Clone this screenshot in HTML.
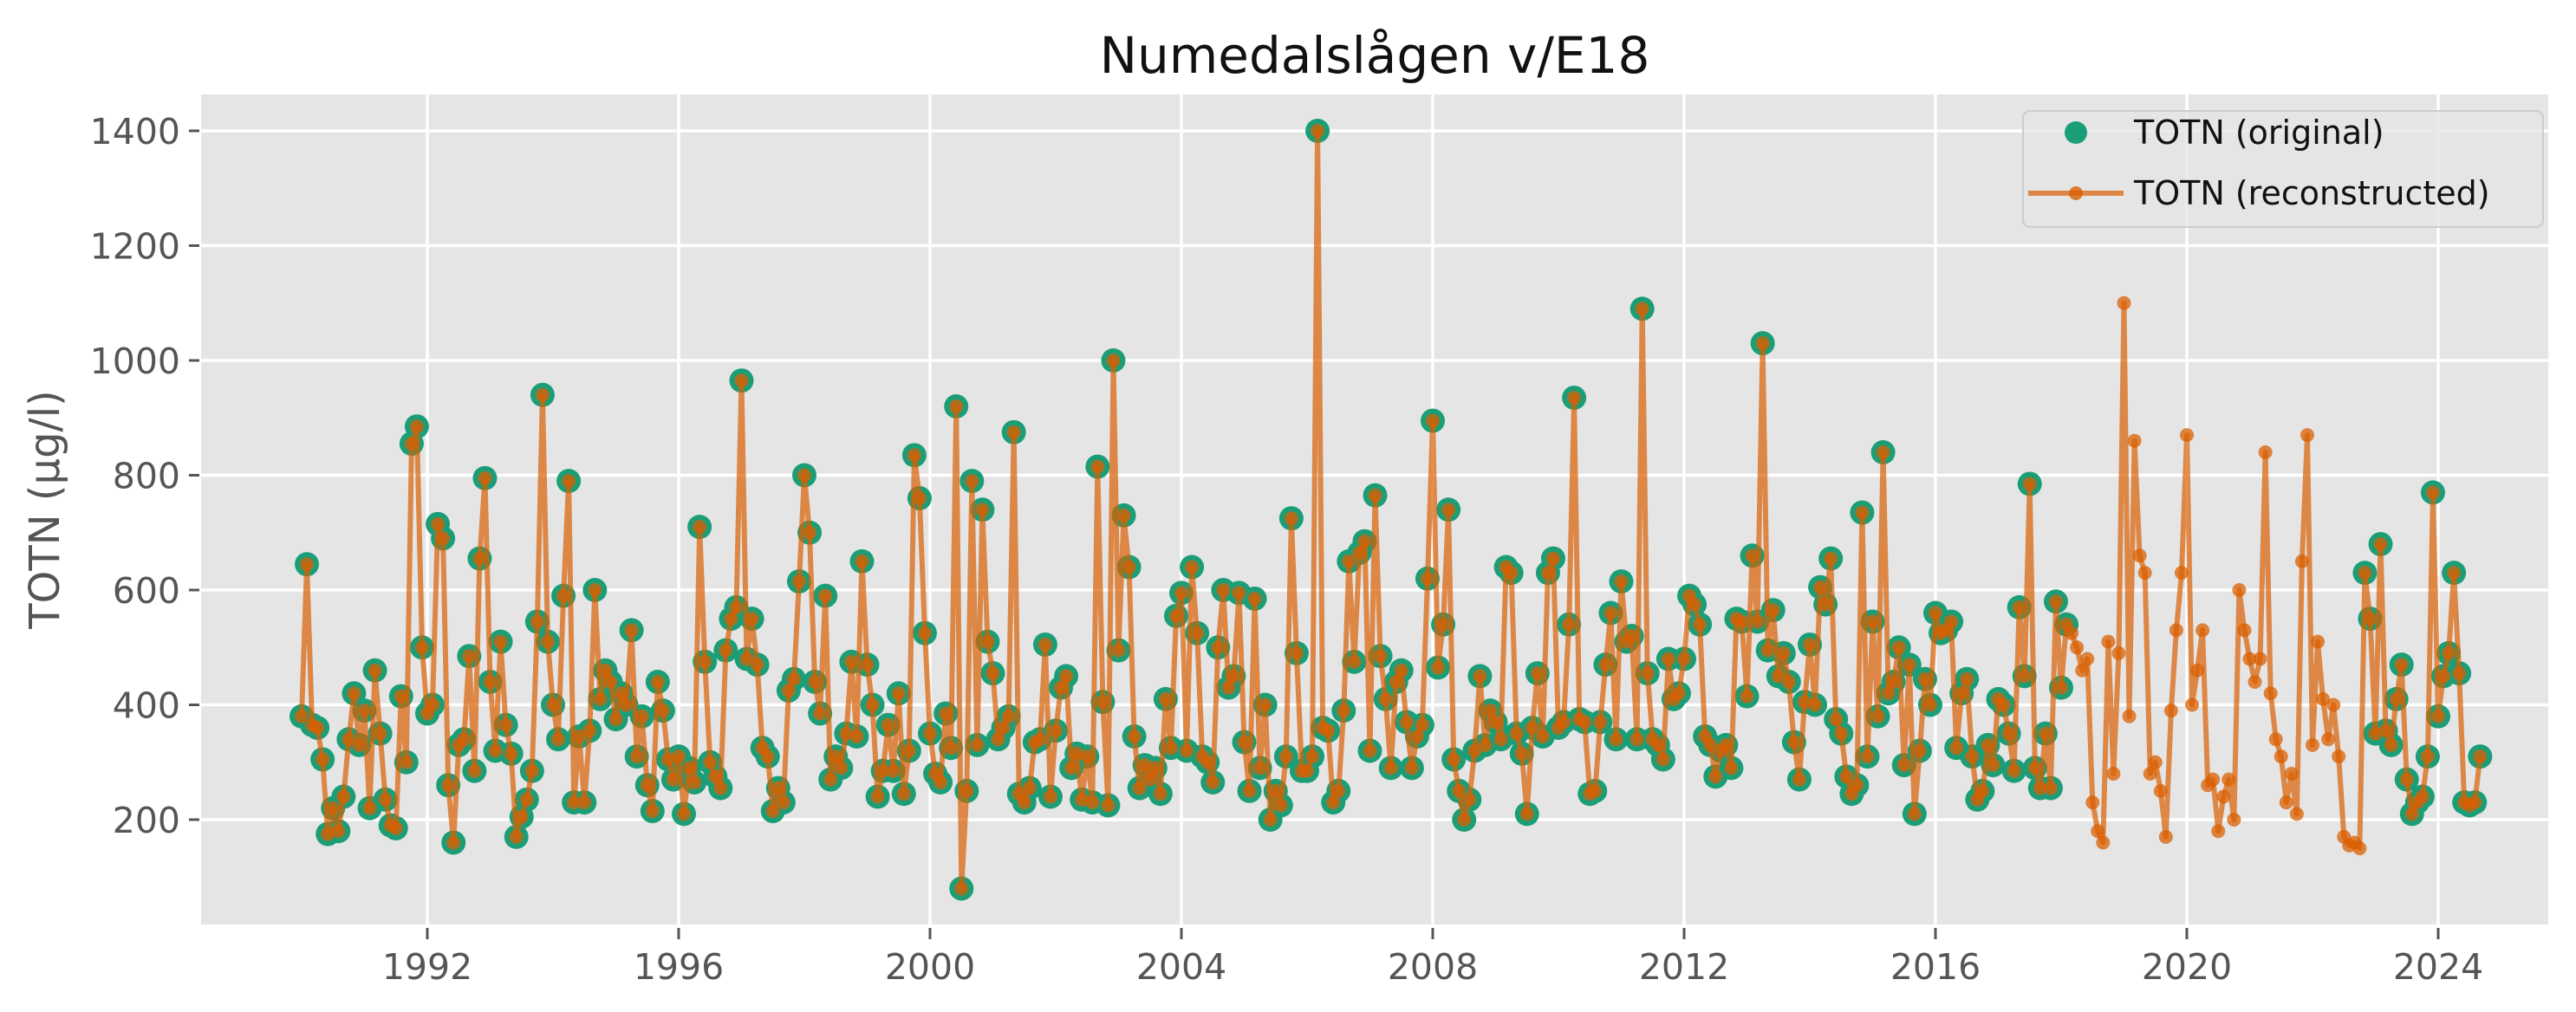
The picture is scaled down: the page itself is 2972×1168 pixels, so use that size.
<!DOCTYPE html>
<html><head><meta charset="utf-8"><style>
html,body{margin:0;padding:0;background:#fff;}
svg{display:block;font-family:"DejaVu Sans","Liberation Sans",sans-serif;}
</style></head><body>
<svg id="chart" width="2972" height="1168" viewBox="0 0 2972 1168"></svg>
<script>
const startYear = 1990.0;
const values = [
380,645,365,360,305,175,220,180,240,340,420,330,
390,220,460,350,235,190,185,415,300,855,885,500,
385,400,715,690,260,160,330,340,485,285,655,795,
440,320,510,365,315,170,205,235,285,545,940,510,
400,340,590,790,230,345,230,355,600,410,460,440,
375,420,400,530,310,380,260,215,440,390,305,270,
310,210,290,265,710,475,300,275,255,495,550,570,
965,480,550,470,325,310,215,255,230,425,445,615,
800,700,440,385,590,270,310,290,350,475,345,650,
470,400,240,285,365,285,420,245,320,835,760,525,
350,280,265,385,325,920,80,250,790,330,740,510,
455,340,360,380,875,245,230,255,335,340,505,240,
355,430,450,290,315,235,310,230,815,405,225,1000,
495,730,640,345,255,295,270,290,245,410,325,555,
595,320,640,525,310,300,265,500,600,430,450,595,
335,250,585,290,400,200,250,225,310,725,490,285,
285,310,1400,360,355,230,250,390,650,475,665,685,
320,765,485,410,290,440,460,370,290,345,365,620,
895,465,540,740,305,250,200,235,320,450,330,390,
370,340,640,630,350,315,210,360,455,345,630,655,
360,370,540,935,375,370,245,250,370,470,560,340,
615,510,520,340,1090,455,340,330,305,480,410,420,
480,590,575,540,345,330,275,320,330,290,550,545,
415,660,545,1030,495,565,450,490,440,335,270,405,
505,400,605,575,655,375,350,275,245,260,735,310,
545,380,840,420,440,500,295,470,210,320,445,400,
560,525,530,545,325,420,445,310,235,250,330,295,
410,400,350,285,570,450,785,290,255,350,255,580,
430,540,525,500,460,480,230,180,160,510,280,490,
1100,380,860,660,630,280,300,250,170,390,530,630,
870,400,460,530,260,270,180,240,270,200,600,530,
480,440,480,840,420,340,310,230,280,210,650,870,
330,510,410,340,400,310,170,155,160,150,630,550,
350,680,355,330,410,470,270,210,230,240,310,770,
380,450,490,630,455,230,225,230,310
];
const originalGapStart = 338; // Mar 2018
const originalGapEnd = 394;   // Nov 2022
const yTicks = [200,400,600,800,1000,1200,1400];
const xTicks = [1992,1996,2000,2004,2008,2012,2016,2020,2024];

const L=232,R=2940,T=109,B=1067;
const sx = yr => 493 + (yr-1992)*72.5;
const sy = v => 946 - (v-200)*132.5/200;
const NS="http://www.w3.org/2000/svg";
const svg=document.getElementById('chart');
function mk(tag,attrs,parent){const e=document.createElementNS(NS,tag);for(const k in attrs)e.setAttribute(k,attrs[k]);(parent||svg).appendChild(e);return e;}

const bg=mk('rect',{x:L,y:T,width:R-L,height:B-T,fill:'#e5e5e5'});



yTicks.forEach(t=>{
  const y=sy(t);
  const g=mk('line',{x1:L,x2:R,y1:y,y2:y,stroke:'#fff','stroke-width':3.5});
  
  
  mk('line',{x1:L-14,x2:L-2,y1:y,y2:y,stroke:'#555','stroke-width':3});
  const tx=mk('text',{x:L-24,y:y+15,'text-anchor':'end','font-size':41,fill:'#555'});
  tx.textContent=t;
  
  
});
xTicks.forEach(t=>{
  const x=sx(t);
  const g=mk('line',{x1:x,x2:x,y1:T,y2:B,stroke:'#fff','stroke-width':3.5});
  
  
  mk('line',{x1:x,x2:x,y1:B+4,y2:B+17,stroke:'#555','stroke-width':3});
  const tx=mk('text',{x:x,y:1130,'text-anchor':'middle','font-size':41,fill:'#555'});
  tx.textContent=t;
  
  
});

const isOrig = i => i<originalGapStart || i>=originalGapEnd;
const gOrig=mk('g',{fill:'#1b9e77'});


values.forEach((v,i)=>{ if(!isOrig(i))return;
  const c=mk('circle',{cx:sx(startYear+i/12),cy:sy(v),r:14},gOrig);
  
  
});
const pts=values.map((v,i)=>sx(startYear+i/12).toFixed(1)+','+sy(v).toFixed(1)).join(' ');
const pl=mk('polyline',{points:pts,fill:'none',stroke:'#d95f02','stroke-opacity':0.7,'stroke-width':6,'stroke-linejoin':'round'});


const gRec=mk('g',{fill:'#d95f02','fill-opacity':0.75});


values.forEach((v,i)=>{
  const c=mk('circle',{cx:sx(startYear+i/12),cy:sy(v),r:8},gRec);
  
  
});

const title=mk('text',{x:(L+R)/2,y:84,'text-anchor':'middle','font-size':58,fill:'#111'});
title.textContent='Numedalslågen v/E18';


const yl=mk('text',{x:0,y:0,'text-anchor':'middle','font-size':48,fill:'#555',transform:'translate(68,'+((T+B)/2)+') rotate(-90)'});
yl.textContent='TOTN (µg/l)';



const lg=mk('g',{});


mk('rect',{x:2334,y:128,width:600,height:134,rx:8,fill:'#e5e5e5',stroke:'#cccccc','stroke-width':2,'fill-opacity':0.8},lg);
const e1=mk('circle',{cx:2395,cy:153,r:13,fill:'#1b9e77'},lg);


const t1=mk('text',{x:2462,y:166,'font-size':38,fill:'#111'},lg);
t1.textContent='TOTN (original)';


mk('line',{x1:2340,x2:2450,y1:223,y2:223,stroke:'#d95f02','stroke-opacity':0.7,'stroke-width':6},lg);
const e2=mk('circle',{cx:2395,cy:223,r:8,fill:'#d95f02','fill-opacity':0.8},lg);


const t2=mk('text',{x:2462,y:236,'font-size':38,fill:'#111'},lg);
t2.textContent='TOTN (reconstructed)';


</script>
</body></html>
